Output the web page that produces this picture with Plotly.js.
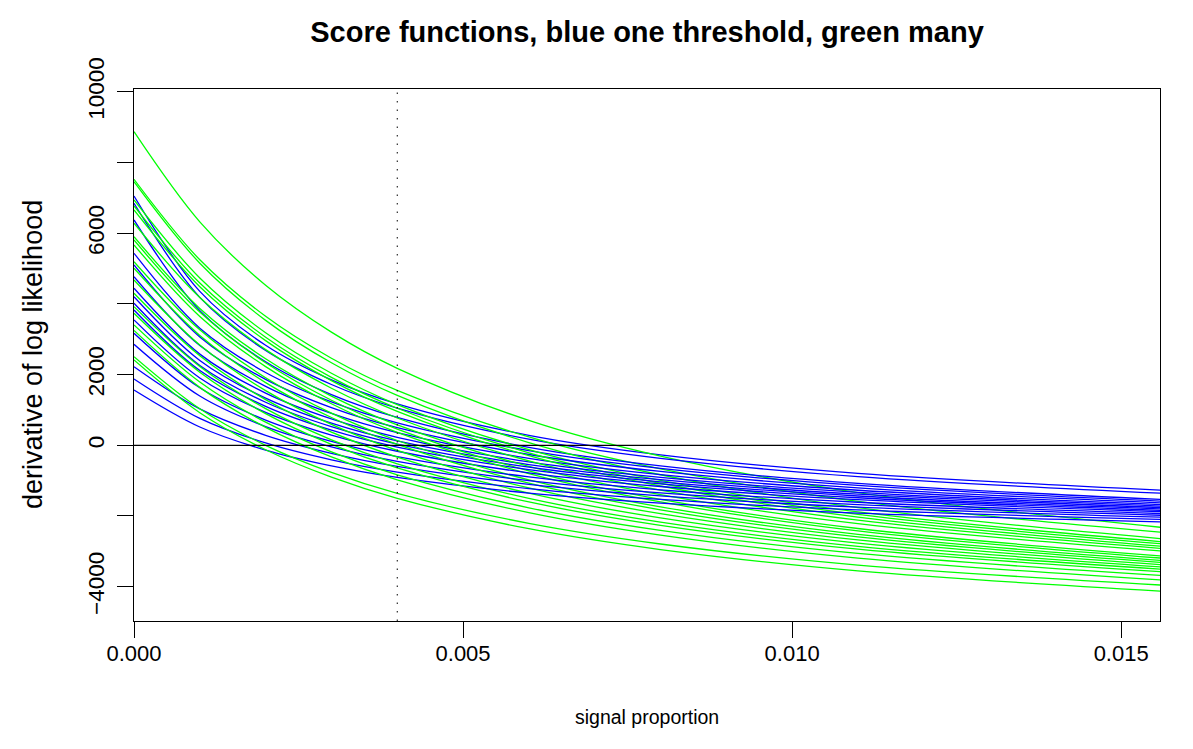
<!DOCTYPE html>
<html>
<head>
<meta charset="utf-8">
<script src="https://cdn.plot.ly/plotly-3.0.1.min.js"></script>
<style>html,body{margin:0;padding:0;background:#fff;}#chart{width:1193px;height:749px;}</style>
</head>
<body>
<div id="chart"></div>
<script>
// signal proportion grid at which the curves were read
const signalProportion = [0, 0.001, 0.002, 0.003, 0.004, 0.006, 0.008, 0.011, 0.0156];

// blue: one threshold (derivative of log likelihood)
const blue01 = [7056, 4355, 2831, 1852, 1171, 282, -270, -794, -1270];
const blue02 = [6849, 4187, 2686, 1721, 1050, 174, -370, -886, -1356];
const blue03 = [6377, 3812, 2364, 1435, 788, -56, -581, -1078, -1530];
const blue04 = [5434, 3315, 2060, 1228, 636, -152, -653, -1135, -1580];
const blue05 = [5103, 3068, 1864, 1065, 497, -260, -740, -1204, -1630];
const blue06 = [4772, 2822, 1667, 902, 357, -368, -828, -1272, -1680];
const blue07 = [4443, 2580, 1477, 746, 226, -468, -907, -1331, -1720];
const blue08 = [4206, 2402, 1335, 626, 123, -548, -974, -1384, -1760];
const blue09 = [4019, 2260, 1218, 527, 36, -618, -1033, -1434, -1800];
const blue10 = [3830, 2116, 1101, 427, -51, -689, -1094, -1484, -1840];
const blue11 = [3547, 1906, 934, 290, -168, -779, -1166, -1540, -1880];
const blue12 = [3170, 1627, 714, 108, -322, -896, -1260, -1612, -1930];
const blue13 = [2858, 1394, 528, -47, -456, -1000, -1346, -1679, -1980];
const blue14 = [2225, 1030, 283, -228, -599, -1104, -1430, -1748, -2035];
const blue15 = [1877, 762, 66, -411, -757, -1228, -1532, -1829, -2095];
const blue16 = [1565, 518, -136, -584, -910, -1352, -1638, -1917, -2165];

// green: many thresholds
const green01 = [8876, 6323, 4529, 3202, 2178, 704, -306, -1339, -2320];
const green02 = [7528, 5250, 3650, 2465, 1552, 236, -665, -1587, -2460];
const green03 = [7460, 5154, 3535, 2335, 1411, 79, -833, -1765, -2640];
const green04 = [6942, 4735, 3185, 2038, 1153, -121, -994, -1886, -2725];
const green05 = [6773, 4591, 3059, 1924, 1049, -211, -1074, -1957, -2785];
const green06 = [6660, 4488, 2962, 1832, 962, -293, -1152, -2031, -2855];
const green07 = [6283, 4183, 2707, 1615, 773, -440, -1271, -2120, -2920];
const green08 = [5904, 3874, 2447, 1392, 578, -595, -1398, -2219, -2990];
const green09 = [5811, 3770, 2336, 1275, 457, -722, -1529, -2355, -3130];
const green10 = [5670, 3647, 2227, 1175, 364, -804, -1604, -2423, -3190];
const green11 = [5197, 3268, 1913, 910, 136, -978, -1741, -2521, -3255];
const green12 = [5010, 3110, 1775, 786, 25, -1073, -1825, -2593, -3315];
const green13 = [4679, 2840, 1548, 592, -145, -1207, -1935, -2678, -3380];
const green14 = [4302, 2535, 1294, 374, -334, -1354, -2054, -2768, -3440];
const green15 = [3923, 2228, 1038, 156, -523, -1502, -2173, -2858, -3505];
const green16 = [3736, 2068, 896, 28, -641, -1604, -2264, -2939, -3575];
const green17 = [3405, 1789, 654, -187, -835, -1768, -2407, -3061, -3680];
const green18 = [3250, 1640, 508, -329, -975, -1905, -2542, -3193, -3810];
const green19 = [2508, 1034, -1, -768, -1359, -2210, -2793, -3390, -3955];
const green20 = [2414, 922, -126, -901, -1499, -2361, -2951, -3554, -4125];

const blueCurves = [blue01, blue02, blue03, blue04, blue05, blue06, blue07, blue08,
  blue09, blue10, blue11, blue12, blue13, blue14, blue15, blue16];
const greenCurves = [green01, green02, green03, green04, green05, green06, green07, green08,
  green09, green10, green11, green12, green13, green14, green15, green16, green17, green18, green19, green20];

const xTickVals = [0, 0.005, 0.010, 0.015];
const xTickText = ['0.000', '0.005', '0.010', '0.015'];
const yTickVals = [-4000, -2000, 0, 2000, 4000, 6000, 8000, 10000];
const yTickText = ['\u22124000', '', '0', '2000', '', '6000', '', '10000'];
const thresholdLine = 0.004;

const BLUE = '#0000FF', GREEN = '#00FF00';
const traces = [];
const n = Math.max(blueCurves.length, greenCurves.length);
for (let i = 0; i < n; i++) {
  if (i < blueCurves.length) traces.push({x: signalProportion, y: blueCurves[i], type: 'scatter', mode: 'lines',
    line: {color: BLUE, width: 1.3, shape: 'spline', smoothing: 1}, hoverinfo: 'skip', showlegend: false});
  if (i < greenCurves.length) traces.push({x: signalProportion, y: greenCurves[i], type: 'scatter', mode: 'lines',
    line: {color: GREEN, width: 1.3, shape: 'spline', smoothing: 1}, hoverinfo: 'skip', showlegend: false});
}

const FONT = 'Liberation Sans, Arial, Helvetica, sans-serif';
const layout = {
  width: 1193, height: 749,
  margin: {l: 134, r: 33, t: 89, b: 128},
  paper_bgcolor: '#fff', plot_bgcolor: '#fff',
  font: {family: FONT, color: '#000', size: 19},
  title: {text: '<b>Score functions, blue one threshold, green many</b>', font: {family: FONT, size: 29, color: '#000'},
    x: 0.5, xref: 'paper', xanchor: 'center', y: 1 - 32 / 749, yref: 'container', yanchor: 'middle'},
  xaxis: {range: [0, 0.01559], tickvals: xTickVals, ticktext: xTickText, ticks: 'outside', ticklen: 16, tickwidth: 1,
    tickcolor: '#000', showline: true, mirror: true, linecolor: '#000', linewidth: 1.3, showgrid: false, zeroline: false,
    tickfont: {size: 22}, automargin: false, ticklabelstandoff: -4},
  yaxis: {range: [-4972, 10083], tickvals: yTickVals, ticktext: yTickText, ticks: 'outside', ticklen: 16, tickwidth: 1,
    tickcolor: '#000', showline: true, mirror: true, linecolor: '#000', linewidth: 1.3, showgrid: false, zeroline: false,
    tickangle: -90, tickfont: {size: 22.5}, automargin: false, ticklabelstandoff: 4},
  shapes: [
    {type: 'line', xref: 'paper', x0: 0, x1: 1, yref: 'y', y0: 0, y1: 0, line: {color: '#000', width: 1.3}},
    {type: 'line', xref: 'x', x0: thresholdLine, x1: thresholdLine, yref: 'paper', y0: 0, y1: 1,
      line: {color: '#000', width: 1, dash: '1.5px,7px'}}
  ],
  annotations: [
    {text: 'signal proportion', xref: 'paper', x: 0.5, yref: 'paper', y: 0, yanchor: 'middle', xanchor: 'center',
      yshift: -96, showarrow: false, font: {size: 19.5}},
    {text: 'derivative of log likelihood', xref: 'paper', x: 0, xshift: -101, yref: 'paper', y: 0.5,
      xanchor: 'center', yanchor: 'middle', textangle: -90, showarrow: false, font: {size: 27}}
  ]
};
Plotly.newPlot('chart', traces, layout, {staticPlot: true, displayModeBar: false});
</script>
</body>
</html>
